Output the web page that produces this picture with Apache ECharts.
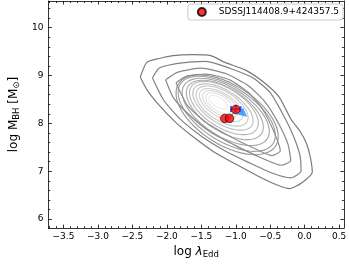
<!DOCTYPE html>
<html><head><meta charset="utf-8">
<script src="https://cdn.jsdelivr.net/npm/echarts@6/dist/echarts.min.js"></script>
<style>html,body{margin:0;padding:0;background:#fff}#c{width:349px;height:264px}</style>
</head><body><div id="c"></div>
<script>
// ---------- data ----------
const seriesName = 'SDSSJ114408.9+424357.5';
const xTickLabels = [-3.5, -3.0, -2.5, -2.0, -1.5, -1.0, -0.5, 0.0, 0.5];
const yTickLabels = [6, 7, 8, 9, 10];

const redX = [-1.00, -1.16, -1.09];
const redY = [8.29, 8.105, 8.105];
const blueX = [-1.00], blueY = [8.30], blueXErr = [0.07], blueYErr = [0.09];
const arrowX = [-0.885], arrowY = [8.20];
const linkX = [-1.09, -1.00], linkY = [8.105, 8.29];

// outer contours (explicit vertices)
const contour1X = [-2.386,-2.291,-2.113,-1.909,-1.636,-1.363,-1.158,-0.858,-0.585,-0.367,-0.203,-0.067,0.029,0.083,0.111,-0.040,-0.217,-0.408,-0.681,-1.022,-1.322,-1.595,-1.868,-2.113,-2.291,-2.386];
const contour1Y = [8.972,9.276,9.357,9.418,9.438,9.418,9.276,9.114,8.850,8.546,8.099,7.836,7.572,7.288,6.984,6.761,6.639,6.720,6.903,7.166,7.410,7.694,8.018,8.383,8.708,8.972];
const contour2X = [-2.209,-2.113,-1.840,-1.431,-1.090,-0.749,-0.503,-0.312,-0.162,-0.067,-0.053,-0.203,-0.476,-0.817,-1.158,-1.499,-1.813,-2.045,-2.209];
const contour2Y = [8.951,9.154,9.256,9.296,9.154,8.951,8.647,8.181,7.734,7.329,7.004,6.862,6.963,7.187,7.430,7.734,8.099,8.485,8.951];
const contour3X = [-2.018,-1.840,-1.499,-1.131,-0.817,-0.585,-0.394,-0.244,-0.203,-0.340,-0.640,-0.995,-1.363,-1.677,-1.909,-2.018];
const contour3Y = [8.911,9.073,9.154,9.032,8.789,8.465,8.039,7.572,7.227,7.126,7.288,7.531,7.815,8.181,8.546,8.911];
const contour4X = [-1.868,-1.704,-1.431,-1.090,-0.817,-0.613,-0.449,-0.353,-0.476,-0.749,-1.090,-1.431,-1.704,-1.868];
const contour4Y = [8.850,8.992,9.032,8.911,8.647,8.302,7.836,7.430,7.329,7.491,7.734,8.018,8.383,8.850];
const outerColors = ['#7a7a7a', '#818181', '#888888', '#8f8f8f'];

// inner contours: centre, tip of major axis, half width (dex in y)
const innerCx = [-1.125,-1.131,-1.145,-1.158,-1.172,-1.186,-1.199,-1.213,-1.226,-1.240,-1.254];
const innerCy = [8.180,8.201,8.241,8.282,8.323,8.343,8.363,8.383,8.404,8.424,8.444];
const innerTipX = [-0.420,-0.458,-0.542,-0.625,-0.696,-0.768,-0.839,-0.911,-0.982,-1.055,-1.126];
const innerTipY = [7.530,7.578,7.682,7.787,7.882,7.955,8.030,8.103,8.178,8.252,8.327];
const innerHalfW = [0.620,0.568,0.507,0.446,0.406,0.345,0.304,0.243,0.203,0.162,0.101];
const innerColors = ['#959595','#9c9c9c','#a4a4a4','#acacac','#b5b5b5','#bebebe','#c7c7c7','#d0d0d0','#d9d9d9','#e2e2e2','#ebebeb'];

// ---------- chart ----------
const XMIN = -3.72, XMAX = 0.57, YMIN = 5.813, YMAX = 10.558;
const FONT = 'DejaVu Sans';
const xMinor = [], yMinor = [];
for (let k = -37; k <= 5; k++) { if (k % 5 !== 0) xMinor.push(k / 10); }
for (let k = 30; k <= 52; k++) { if (k % 5 !== 0) yMinor.push(k / 5); }

const fmtX = v => (v < 0 ? '\u2212' : '') + Math.abs(v).toFixed(1);
const lineC = { color: '#000', width: 0.8 };

function xAx(pos, vals, len, label, line, extra) {
  return Object.assign({
    type: 'value', position: pos, min: XMIN, max: XMAX, gridIndex: 0,
    axisLine: { show: line, onZero: false, lineStyle: lineC },
    axisTick: { show: true, inside: true, length: len, customValues: vals, lineStyle: lineC },
    axisLabel: label ? { show: true, customValues: vals, formatter: fmtX, margin: 4, fontSize: 9, fontFamily: FONT, color: '#000' } : { show: false },
    splitLine: { show: false }, minorTick: { show: false }
  }, extra || {});
}
function yAx(pos, vals, len, label, line, extra) {
  return Object.assign({
    type: 'value', position: pos, min: YMIN, max: YMAX, gridIndex: 0,
    axisLine: { show: line, onZero: false, lineStyle: lineC },
    axisTick: { show: true, inside: true, length: len, customValues: vals, lineStyle: lineC },
    axisLabel: label ? { show: true, customValues: vals, formatter: v => String(Math.round(v)), margin: 5, fontSize: 9, fontFamily: FONT, color: '#000' } : { show: false },
    splitLine: { show: false }, minorTick: { show: false }
  }, extra || {});
}

const nameStyle = {
  fontFamily: FONT, fontSize: 12, color: '#000',
  rich: {
    a: { fontFamily: FONT, fontSize: 12, color: '#000' },
    l: { fontFamily: FONT, fontSize: 12, color: '#000', fontStyle: 'italic' },
    s: { fontFamily: FONT, fontSize: 8.5, color: '#000', padding: [5, 0, 0, 0] }
  }
};

const outerSeries = [[contour1X, contour1Y], [contour2X, contour2Y], [contour3X, contour3Y], [contour4X, contour4Y]].map((c, i) => ({
  type: 'line', xAxisIndex: 0, yAxisIndex: 0, silent: true, z: 1,
  data: c[0].map((x, j) => [x, c[1][j]]), showSymbol: false, symbol: 'none', smooth: 0.2,
  lineStyle: { color: outerColors[i], width: 1.2 }
}));

const innerSeries = {
  type: 'custom', xAxisIndex: 0, yAxisIndex: 0, silent: true, z: 1, clip: true,
  data: innerCx.map((x, i) => [x, innerCy[i], innerTipX[i], innerTipY[i], innerHalfW[i]]),
  renderItem: function (params, api) {
    const i = params.dataIndex;
    const c = api.coord([api.value(0), api.value(1)]);
    const t = api.coord([api.value(2), api.value(3)]);
    const ux = t[0] - c[0], uy = t[1] - c[1];
    const a = Math.hypot(ux, uy), ex = ux / a, ey = uy / a;
    const b = api.size([0, api.value(4)])[1];
    const pts = [];
    for (let k = 0; k < 64; k++) {
      const th = 2 * Math.PI * k / 64, ca = Math.cos(th), sa = Math.sin(th);
      pts.push([c[0] + a * ca * ex - b * sa * ey, c[1] + a * ca * ey + b * sa * ex]);
    }
    return { type: 'polygon', shape: { points: pts }, style: { fill: 'none', stroke: innerColors[i], lineWidth: 1.1 } };
  }
};

const blueSeries = {
  type: 'custom', xAxisIndex: 0, yAxisIndex: 0, z: 4,
  data: blueX.map((x, i) => [x, blueY[i], blueXErr[i], blueYErr[i]]),
  renderItem: function (params, api) {
    const x = api.value(0), y = api.value(1), dx = api.value(2), dy = api.value(3);
    const l = api.coord([x - dx, y]), r = api.coord([x + dx, y]);
    const tp = api.coord([x, y + dy]), bt = api.coord([x, y - dy]);
    const st = { stroke: '#2b3cf0', lineWidth: 1.8, opacity: 0.85 };
    const cap = 3;
    return { type: 'group', children: [
      { type: 'line', shape: { x1: l[0], y1: l[1], x2: r[0], y2: r[1] }, style: st },
      { type: 'line', shape: { x1: tp[0], y1: tp[1], x2: bt[0], y2: bt[1] }, style: st },
      { type: 'line', shape: { x1: l[0], y1: l[1] - cap, x2: l[0], y2: l[1] + cap }, style: st },
      { type: 'line', shape: { x1: r[0], y1: r[1] - cap, x2: r[0], y2: r[1] + cap }, style: st }
    ] };
  }
};

const option = {
  animation: false,
  backgroundColor: '#fff',
  grid: { left: 32, right: 2, top: 1, bottom: 29.3, containLabel: false },
  legend: {
    data: [{ name: seriesName, icon: 'circle' }],
    right: 6, top: 4, orient: 'horizontal',
    padding: [3, 4, 3, 9], itemWidth: 8, itemHeight: 8, itemGap: 0,
    borderColor: '#cccccc', borderWidth: 1, borderRadius: 3,
    backgroundColor: 'rgba(255,255,255,0.85)',
    textStyle: { fontFamily: FONT, fontSize: 9, color: '#000', padding: [0, 0, 0, 8] }
  },
  xAxis: [
    xAx('bottom', xTickLabels, 3.5, true, true, {
      name: '{a|log }{l|λ}{s|Edd}', nameLocation: 'middle', nameGap: 10, nameTextStyle: nameStyle
    }),
    xAx('bottom', xMinor, 2, false, false),
    xAx('top', xTickLabels, 3.5, false, true),
    xAx('top', xMinor, 2, false, false)
  ],
  yAxis: [
    yAx('left', yTickLabels, 3.5, true, true, {
      name: '{a|log M}{s|BH}{a| [M}{s|\u2299}{a|]}', nameLocation: 'middle', nameGap: 16, nameRotate: 90, nameTextStyle: nameStyle
    }),
    yAx('left', yMinor, 2, false, false),
    yAx('right', yTickLabels, 3.5, false, true),
    yAx('right', yMinor, 2, false, false)
  ],
  series: outerSeries.concat([
    innerSeries,
    {
      type: 'line', xAxisIndex: 0, yAxisIndex: 0, z: 3, silent: true,
      data: linkX.map((x, i) => [x, linkY[i]]), symbol: 'none',
      lineStyle: { color: '#2ca02c', width: 1 }
    },
    blueSeries,
    {
      type: 'scatter', xAxisIndex: 0, yAxisIndex: 0, z: 4,
      data: arrowX.map((x, i) => [x, arrowY[i]]),
      symbol: 'triangle', symbolSize: 9, symbolRotate: -130,
      itemStyle: { color: '#1e90ff' }
    },
    {
      name: seriesName, type: 'scatter', xAxisIndex: 0, yAxisIndex: 0, z: 5,
      data: redX.map((x, i) => [x, redY[i]]),
      symbol: 'circle', symbolSize: 8.5,
      itemStyle: { color: '#ff0000', borderColor: '#000', borderWidth: 0.8 }
    }
  ])
};

const chart = echarts.init(document.getElementById('c'), null, { renderer: 'canvas' });
chart.setOption(option);
</script>
</body></html>
